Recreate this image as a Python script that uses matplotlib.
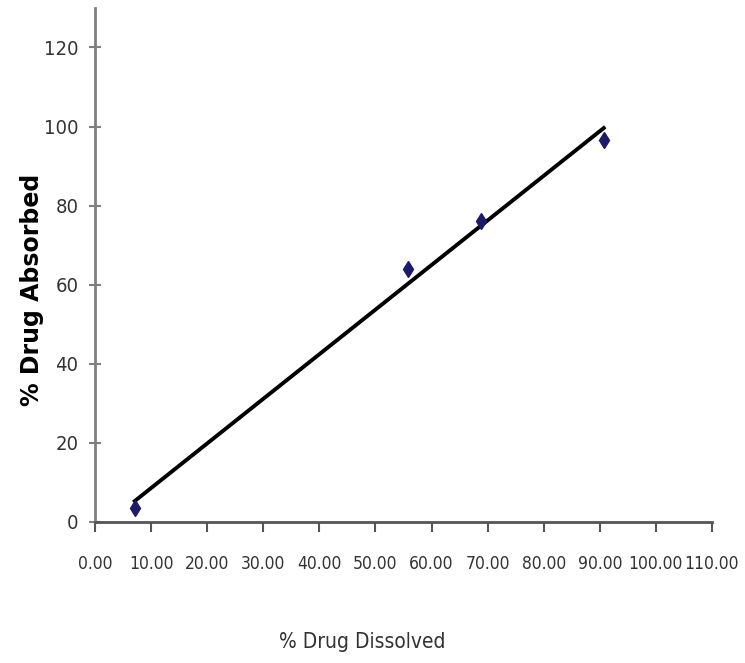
import matplotlib
matplotlib.use("Agg")
import matplotlib.pyplot as plt
import numpy as np

# % dissolved vs % absorbed (Levy plot)
dissolved = [7.1, 55.8, 68.8, 90.7]
absorbed = [3.5, 63.9, 76.0, 96.7]

x_ticks = np.arange(0, 111, 10)
y_ticks = np.arange(0, 121, 20)

AXIS_GREY = "#7f7f7f"
TXT = dict(family="DejaVu Sans", stretch="condensed", color="#333333")

fig = plt.figure(figsize=(7.45, 6.63), dpi=100)
ax = fig.add_axes([0.1275, 0.2127, 0.8282, 0.7753])

# linear trend line over the data range
slope, icpt = np.polyfit(dissolved, absorbed, 1)
xs = np.array([min(dissolved), max(dissolved)])
ax.plot(xs, slope * xs + icpt, color="black", linewidth=2.8, zorder=2)
ax.plot(dissolved, absorbed, linestyle="none", marker="d", markersize=8.5,
        color="#1c1a6b", zorder=3)

ax.set_xlim(0, 110)
ax.set_ylim(0, 130)
ax.set_xticks(x_ticks)
ax.set_xticklabels([f"{v:.2f}" for v in x_ticks], fontsize=12.5, **TXT)
ax.set_yticks(y_ticks)
ax.set_yticklabels([str(v) for v in y_ticks], fontsize=14.5, **TXT)

for side in ["top", "right"]:
    ax.spines[side].set_visible(False)
for side in ["left", "bottom"]:
    ax.spines[side].set_color(AXIS_GREY)
    ax.spines[side].set_linewidth(2)
ax.spines["bottom"].set_color("#555555")

ax.tick_params(axis="x", direction="out", length=7, width=1.5, color="#555555", pad=17)
ax.tick_params(axis="y", direction="inout", length=8, width=1.5, color=AXIS_GREY, pad=8)

ax.set_xlabel("% Drug Dissolved", fontsize=15, va="center", **TXT)
ax.xaxis.set_label_coords(0.433, -0.234)
ax.set_ylabel("% Drug Absorbed", fontsize=17, fontweight="bold", va="center")
ax.yaxis.set_label_coords(-0.102, 0.451)

fig.savefig("out.png", dpi=100)
